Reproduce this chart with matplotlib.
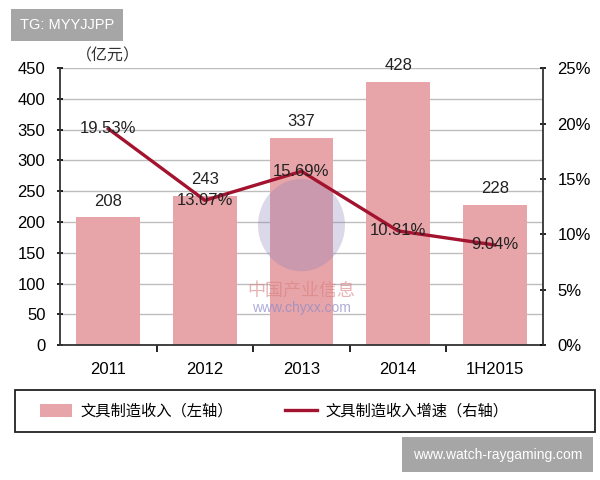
import matplotlib
matplotlib.use('Agg')
import matplotlib.pyplot as plt
from matplotlib.patches import Ellipse, Rectangle
from matplotlib.ticker import FuncFormatter

plt.rcParams['font.family'] = ['Liberation Sans', 'Noto Sans CJK SC', 'DejaVu Sans']

categories = ['2011', '2012', '2013', '2014', '1H2015']
revenue = [208, 243, 337, 428, 228]
growth = [19.53, 13.07, 15.69, 10.31, 9.04]

bar_label = '文具制造收入（左轴）'
line_label = '文具制造收入增速（右轴）'
bar_color = '#E8A5A9'
line_color = '#A3122E'
cjk = ['Noto Sans CJK SC', 'DejaVu Sans']


def main():
    fig = plt.figure(figsize=(6, 4.8), dpi=100)
    ax1 = fig.add_axes([0.100, 0.281, 0.805, 0.577])
    x = list(range(len(categories)))

    bars = ax1.bar(x, revenue, width=0.66, color=bar_color, zorder=2, label=bar_label)
    ax1.set_ylim(0, 450)
    ax1.set_yticks(range(0, 451, 50))
    ax1.set_xlim(-0.5, len(categories) - 0.5)
    ax1.grid(axis='y', color='#BDBDBD', linewidth=1, zorder=0)
    ax1.set_axisbelow(True)
    ax1.set_xticks(x)
    ax1.set_xticklabels(categories)
    ax1.set_xticks([i + 0.5 for i in x[:-1]], minor=True)
    ax1.tick_params(axis='x', which='major', length=0, pad=12, labelsize=12)
    ax1.tick_params(axis='x', which='minor', length=5, direction='out', width=1.2)
    ax1.tick_params(axis='y', length=5, direction='inout', width=1.2, labelsize=12, pad=8)
    for s in ['top', 'right']:
        ax1.spines[s].set_visible(False)
    for s in ['left', 'bottom']:
        ax1.spines[s].set_linewidth(1.3)
        ax1.spines[s].set_color('#333333')
    for rect, v in zip(bars, revenue):
        ax1.annotate(str(v), (rect.get_x() + rect.get_width() / 2, v),
                     xytext=(0, 6), textcoords='offset points',
                     ha='center', va='bottom', fontsize=12, color='#222222')
    ax1.text(0.10, 1.015, '（亿元）', transform=ax1.transAxes, fontsize=11.5,
             family=cjk, ha='center', va='bottom', color='#333333')

    ax2 = ax1.twinx()
    line, = ax2.plot(x, growth, color=line_color, linewidth=2.4, zorder=5, label=line_label)
    ax2.set_ylim(0, 25)
    ax2.set_yticks(range(0, 26, 5))
    ax2.yaxis.set_major_formatter(FuncFormatter(lambda v, p: f'{v:.0f}%'))
    ax2.tick_params(axis='y', length=5, direction='inout', width=1.2, labelsize=12, pad=8)
    for s in ['top', 'left', 'bottom']:
        ax2.spines[s].set_visible(False)
    ax2.spines['right'].set_linewidth(1.3)
    ax2.spines['right'].set_color('#333333')
    for xi, g in zip(x, growth):
        ax2.text(xi, g, f'{g:.2f}%', ha='center', va='center', fontsize=12,
                 color='#222222', zorder=6)

    # faint source watermark
    ax1.add_patch(Ellipse((2.0, 195), 0.9, 150, color='#8a7fb8', alpha=0.3, zorder=3, lw=0))
    ax1.text(2.0, 88, '中国产业信息', ha='center', va='center', fontsize=13,
             family=cjk, color='#d98080', alpha=0.6, zorder=3)
    ax1.text(2.0, 60, 'www.chyxx.com', ha='center', va='center', fontsize=10,
             color='#8a8ac8', alpha=0.7, zorder=3)

    # legend frame drawn separately, entries sit to the left like the source
    fig.patches.append(Rectangle((15 / 600, 1 - 432 / 480), 580 / 600, 42 / 480,
                                 transform=fig.transFigure, fill=False,
                                 edgecolor='#222222', linewidth=1.3))
    fig.legend([bars, line], [bar_label, line_label], loc='center left',
               bbox_to_anchor=(40 / 600, 1 - 411 / 480), bbox_transform=fig.transFigure,
               ncol=2, frameon=False, prop={'family': cjk, 'size': 11},
               columnspacing=3.4, handlelength=2.1, handleheight=0.9,
               handletextpad=0.55, borderpad=0, borderaxespad=0)

    fig.text(0.033, 0.948, 'TG: MYYJJPP', color='white', fontsize=10.5,
             ha='left', va='center',
             bbox=dict(boxstyle='square,pad=0.6', fc='#a6a6a6', ec='none'))
    fig.text(0.688, 0.053, 'www.watch-raygaming.com', color='white', fontsize=10,
             ha='left', va='center',
             bbox=dict(boxstyle='square,pad=0.75', fc='#a6a6a6', ec='none'))

    fig.savefig('out.png', dpi=100)


if __name__ == '__main__':
    main()
